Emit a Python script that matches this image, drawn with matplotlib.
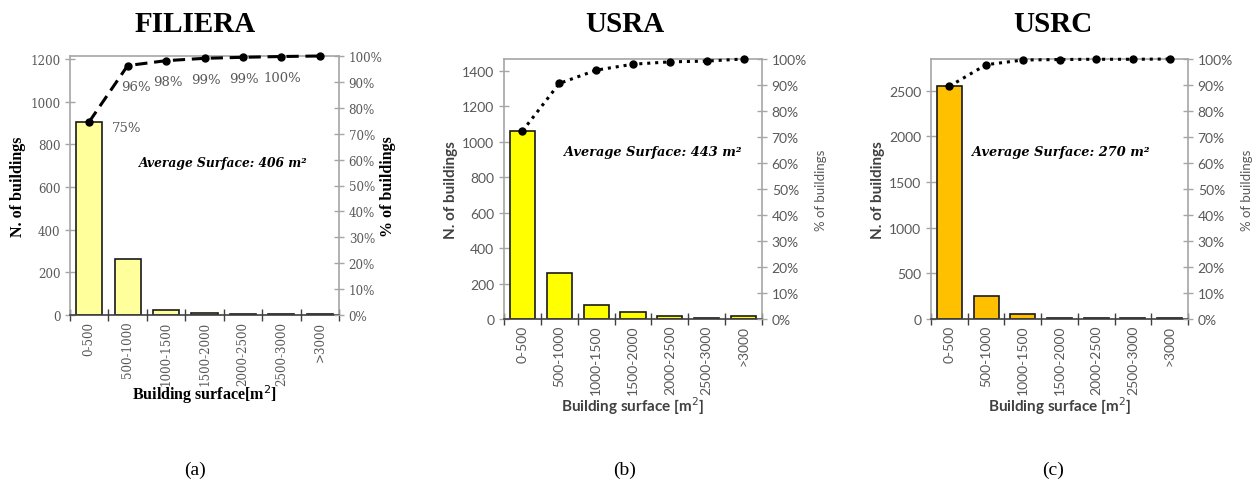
import matplotlib
matplotlib.use("Agg")
import matplotlib.pyplot as plt
import numpy as np
from matplotlib.ticker import FuncFormatter, MultipleLocator, FixedLocator

categories = ["0-500", "500-1000", "1000-1500", "1500-2000", "2000-2500", "2500-3000", ">3000"]

filiera_counts = [905, 262, 22, 8, 4, 3, 3]
filiera_cum = [74.6, 96.3, 98.2, 99.1, 99.5, 99.8, 100.0]
filiera_labels = ["75%", "96%", "98%", "99%", "99%", "100%", ""]

usra_counts = [1062, 259, 78, 38, 15, 5, 15]
usra_cum = [72.3, 90.6, 95.7, 98.0, 98.9, 99.2, 100.0]

usrc_counts = [2555, 248, 52, 10, 8, 6, 8]
usrc_cum = [89.5, 97.8, 99.6, 99.8, 99.9, 99.9, 100.0]

titles = ["FILIERA", "USRA", "USRC"]
avg_texts = ["Average Surface: 406 m²", "Average Surface: 443 m²", "Average Surface: 270 m²"]
sub_labels = ["(a)", "(b)", "(c)"]

W, H = 1258, 489
fig = plt.figure(figsize=(W / 100, H / 100), dpi=100)

GRAY = "#595959"
SPINE = "#a6a6a6"

def px_axes(l, t, r, b):
    return fig.add_axes([l / W, 1 - b / H, (r - l) / W, (b - t) / H])

panels = [
    dict(rect=(70, 57, 339, 316), counts=filiera_counts, cum=filiera_cum, color="#ffff9c",
         ylim=1214, ystep=200, ls=(0, (4, 2.2)), serif=True, title_x=195, avg_xy=(0.885, 0.59)),
    dict(rect=(504, 60, 762, 320), counts=usra_counts, cum=usra_cum, color="#ffff00",
         ylim=1466, ystep=200, ls=(0, (1, 1.6)), serif=False, title_x=625, avg_xy=(0.92, 0.646)),
    dict(rect=(931, 60, 1188, 320), counts=usrc_counts, cum=usrc_cum, color="#ffc000",
         ylim=2847, ystep=500, ls=(0, (1, 1.6)), serif=False, title_x=1053, avg_xy=(0.852, 0.646)),
]

for i, p in enumerate(panels):
    ax = px_axes(*p["rect"])
    x = np.arange(len(categories))
    ax.bar(x, p["counts"], width=0.68, color=p["color"], edgecolor="#1a1a1a", linewidth=1.2, zorder=2)
    ax.set_xlim(-0.5, len(categories) - 0.5)
    ax.set_ylim(0, p["ylim"])
    ax.yaxis.set_major_locator(MultipleLocator(p["ystep"]))

    if p["serif"]:
        tick_font = dict(family="DejaVu Serif", size=8.6)
        lab_font = dict(family="Liberation Serif", size=11.5, weight="bold")
    else:
        tick_font = dict(family="Lato", size=10)
        lab_font = dict(family="Lato", size=11, weight="bold")

    ax.set_xticks(x)
    ax.set_xticklabels(categories, rotation=90, color=GRAY, **tick_font)
    ax.tick_params(axis="x", length=0, pad=4)
    ax.xaxis.set_minor_locator(FixedLocator(np.arange(-0.5, len(categories), 1.0)))
    ax.tick_params(axis="x", which="minor", direction="inout", length=8, width=1, color="#404040")
    ax.tick_params(axis="y", direction="inout", length=7, width=1, color=SPINE, labelcolor=GRAY)
    for lab in ax.get_yticklabels():
        lab.set_fontfamily(tick_font["family"])
        lab.set_fontsize(tick_font["size"])

    for s in ["left", "top", "right"]:
        ax.spines[s].set_color(SPINE)
        ax.spines[s].set_linewidth(1.2)
    ax.spines["bottom"].set_color("#404040")
    ax.spines["bottom"].set_linewidth(1.2)

    if p["serif"]:
        ax.set_ylabel("N. of buildings", color="black", labelpad=3, **lab_font)
        ax.set_xlabel("Building surface[m$^2$]", color="black", labelpad=-2, **lab_font)
    else:
        ax.set_ylabel("N. of buildings", color="#404040", labelpad=3, **lab_font)
        ax.set_xlabel("Building surface [m$^2$]", color="#404040", labelpad=0.5, **lab_font)

    ax2 = ax.twinx()
    ax2.plot(x, p["cum"], color="black", linestyle=p["ls"], linewidth=2.2, marker="o", markersize=5, zorder=5, clip_on=False)
    ax2.set_ylim(0, 100)
    ax2.yaxis.set_major_locator(MultipleLocator(10))
    ax2.yaxis.set_major_formatter(FuncFormatter(lambda v, pos: f"{int(round(v))}%"))
    ax2.tick_params(axis="y", direction="inout", length=7, width=1, color=SPINE, labelcolor=GRAY)
    for lab in ax2.get_yticklabels():
        lab.set_fontfamily(tick_font["family"])
        lab.set_fontsize(tick_font["size"])
    for s in ax2.spines.values():
        s.set_visible(False)
    if p["serif"]:
        ax2.set_ylabel("% of buildings", color="black", rotation=90, labelpad=-2, **lab_font)
    else:
        ax2.set_ylabel("% of buildings", color=GRAY, rotation=90, labelpad=6,
                       family="Lato", size=9.5)

    if p["serif"]:
        for j, txt in enumerate(filiera_labels):
            if not txt:
                continue
            if j == 0:
                ax2.annotate(txt, (x[j], p["cum"][j]), xytext=(16, -4), textcoords="offset points",
                             ha="left", va="center", color=GRAY, family="DejaVu Serif", size=9.5)
            else:
                ax2.annotate(txt, (x[j], p["cum"][j]), xytext=(6 if j == 1 else 1, -15), textcoords="offset points",
                             ha="center", va="center", color=GRAY, family="DejaVu Serif", size=9.5)

    ax2.text(p["avg_xy"][0], p["avg_xy"][1], avg_texts[i], transform=ax.transAxes, ha="right", va="center",
             family="DejaVu Serif", style="italic", weight="bold", size=8.8 if p["serif"] else 9.3, color="black")

    fig.text(p["title_x"] / W, 1 - 25 / H, titles[i], ha="center", va="center",
             family="Liberation Serif", weight="bold", size=21)
    fig.text(p["title_x"] / W, 1 - 470 / H, sub_labels[i], ha="center", va="center",
             family="Liberation Serif", size=14)

fig.savefig("out.png", dpi=100, facecolor="white")
